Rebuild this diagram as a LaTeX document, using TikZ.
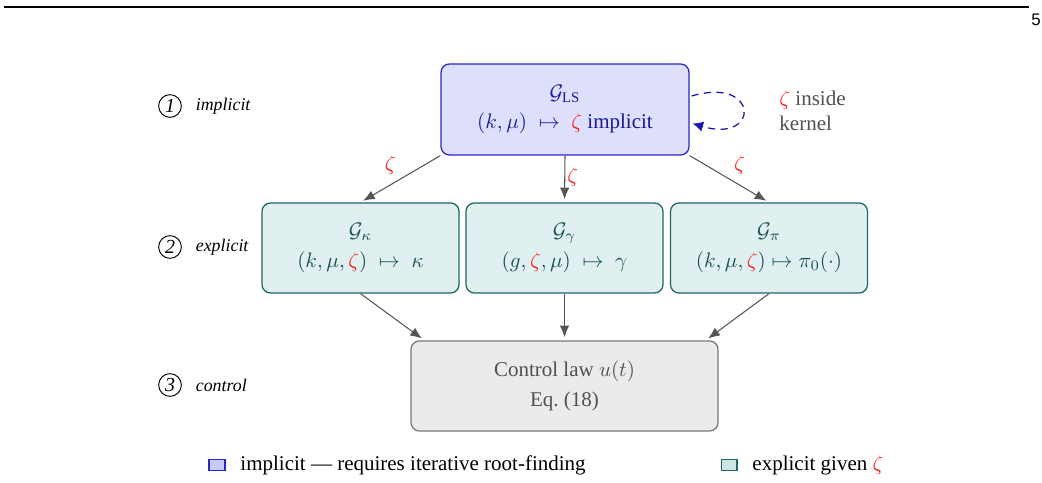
\documentclass[tikz,border=0pt]{standalone}
\usepackage{fontspec}
\setmainfont{Liberation Serif}
\newfontfamily\pagesans{Liberation Sans}
\usetikzlibrary{arrows.meta,calc}
\definecolor{implfill}{RGB}{221,223,251}
\definecolor{impldraw}{RGB}{40,40,200}
\definecolor{impltext}{RGB}{25,25,150}
\definecolor{implsq}{RGB}{200,203,248}
\definecolor{loopblue}{RGB}{25,25,170}
\definecolor{explfill}{RGB}{224,240,240}
\definecolor{expldraw}{RGB}{35,100,100}
\definecolor{expltext}{RGB}{25,80,80}
\definecolor{explsq}{RGB}{204,229,227}
\definecolor{ctrlfill}{RGB}{235,235,235}
\definecolor{ctrldraw}{RGB}{120,120,120}
\definecolor{ctrltext}{RGB}{80,80,80}
\definecolor{arrowgray}{RGB}{85,85,85}
\definecolor{zred}{RGB}{255,30,30}
\def\pxu{0.4762pt}
\newcommand{\zr}{\textcolor{zred}{\zeta}}
\begin{document}
\begin{tikzpicture}[x=0.4762pt, y=-0.4762pt,
  box/.style={rounded corners=4pt, line width=0.6pt, align=center, inner sep=0pt},
  implbox/.style={box, fill=implfill, draw=impldraw, text=impltext,
    minimum width=248*\pxu, minimum height=91*\pxu},
  explbox/.style={box, fill=explfill, draw=expldraw, text=expltext,
    minimum width=197*\pxu, minimum height=90*\pxu},
  ctrlbox/.style={box, fill=ctrlfill, draw=ctrldraw, text=ctrltext,
    minimum width=307*\pxu, minimum height=90*\pxu},
  flow/.style={draw=arrowgray, line width=0.5pt, -{Latex[length=5.5pt,width=4.5pt]}, shorten >=1.5pt},
  zlab/.style={text=zred, inner sep=1pt},
  stage/.style={circle, draw, line width=0.45pt, inner sep=0pt, minimum size=10.8pt,
    font=\fontsize{9.5}{11}\selectfont\itshape},
  stagetxt/.style={anchor=west, font=\fontsize{8.5}{10}\selectfont\itshape, inner sep=0pt, xshift=6.5pt},
  legsq/.style={draw, line width=0.6pt, minimum width=7.5pt, minimum height=5.5pt, inner sep=0pt},
  legtxt/.style={anchor=west, inner sep=0pt}
]
\useasboundingbox (0,0) rectangle (1042,483);

% page header
\coordinate (r1) at (4,7);
\coordinate (r2) at (1029,7);
\draw[line width=1.1pt] (r1) -- (r2);
\node[font=\pagesans\fontsize{8}{9}\selectfont, inner sep=0pt] (pg) at (1036,20) {5};

% boxes
\node[implbox] (gls) at (565,109.5) {$\mathcal{G}_{\mathrm{LS}}$\\[2pt]$(k,\mu)\;\mapsto\;\zr$ implicit};
\node[explbox] (gk) at (360.5,248) {$\mathcal{G}_{\kappa}$\\[2pt]$(k,\mu,\zr)\;\mapsto\;\kappa$};
\node[explbox] (gg) at (564.5,248) {$\mathcal{G}_{\gamma}$\\[2pt]$(g,\zr,\mu)\;\mapsto\;\gamma$};
\node[explbox] (gp) at (769,248) {$\mathcal{G}_{\pi}$\\[2pt]$(k,\mu,\zr)\mapsto\pi_0(\cdot)$};
\node[ctrlbox] (ctrl) at (564.5,386) {Control law $u(t)$\\[2pt]Eq.~(18)};

% self loop
\coordinate (la) at ($(gls.east)+(2,-13.5)$);
\coordinate (lb) at ($(gls.east)+(3,14)$);
\draw[loopblue, dashed, dash pattern=on 3.4pt off 2.6pt, line width=0.6pt,
  -{Latex[length=5pt,width=5pt]}] (la) .. controls (760,76) and (760,144) .. (lb);
\node[anchor=west, align=left, text=ctrltext, inner sep=0pt] (note) at (779,111) {$\zr$ inside\\kernel};

% arrows level 1 -> 2
\draw[flow] (gls.south west) -- node[zlab, above left=1pt] {$\zeta$} (gk.north);
\draw[flow] (gls.south) -- node[zlab, right=0pt, yshift=1pt] {$\zeta$} (gg.north);
\draw[flow] (gls.south east) -- node[zlab, above right=1pt] {$\zeta$} (gp.north);

% arrows level 2 -> 3
\coordinate (c1) at ($(ctrl.north west)+(14,0)$);
\coordinate (c3) at ($(ctrl.north east)+(-13,0)$);
\draw[flow] (gk.south) -- (c1);
\draw[flow] (gg.south) -- (ctrl.north);
\draw[flow] (gp.south) -- (c3);

% stage labels
\node[stage] (s1) at (170,106) {1};
\node[stagetxt] (t1) at (s1.east) {implicit};
\node[stage] (s2) at (170,247) {2};
\node[stagetxt] (t2) at (s2.east) {explicit};
\node[stage] (s3) at (170,385) {3};
\node[stagetxt] (t3) at (s3.east) {control};

% legend
\node[legsq, fill=implsq, draw=impldraw] (lg1) at (217,465) {};
\node[legtxt] (lt1) at (240,465) {implicit --- requires iterative root-finding};
\node[legsq, fill=explsq, draw=expldraw] (lg2) at (729,465) {};
\node[legtxt] (lt2) at (752,465) {explicit given $\zr$};
\end{tikzpicture}
\end{document}
